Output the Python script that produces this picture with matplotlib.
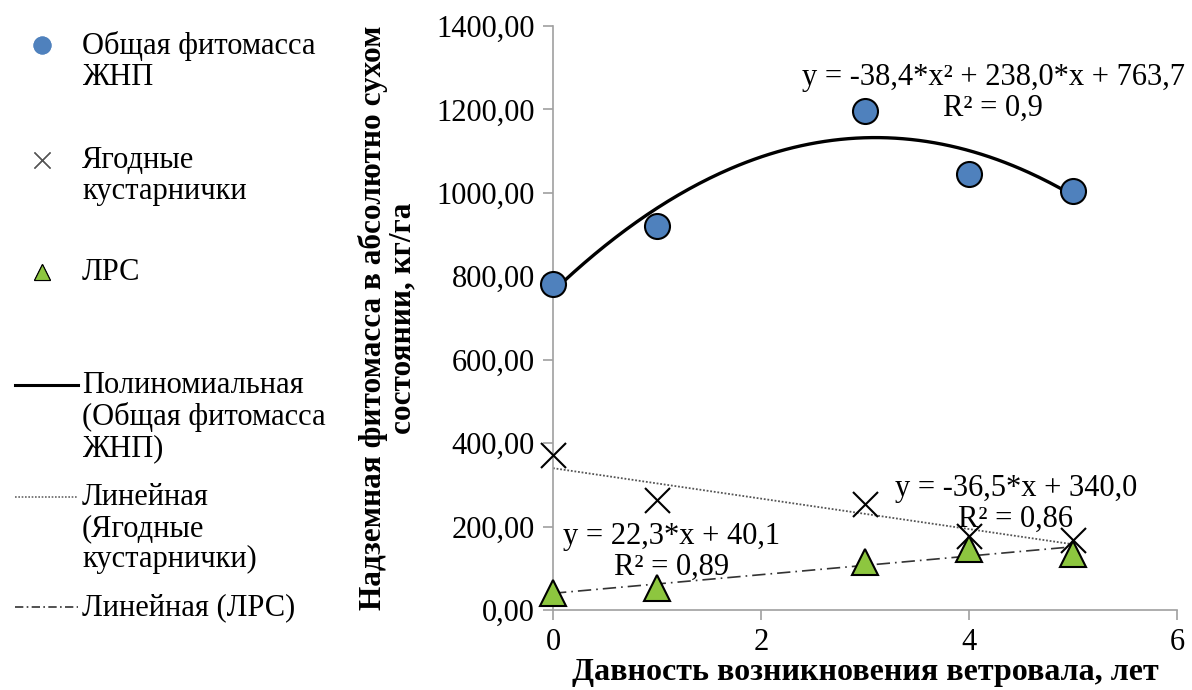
import numpy as np
import matplotlib
matplotlib.use("Agg")
import matplotlib.pyplot as plt
from matplotlib.lines import Line2D
from matplotlib.ticker import FuncFormatter

plt.rcParams['font.family'] = ['Liberation Serif', 'DejaVu Serif']

# years since windfall
years = [0, 1, 3, 4, 5]
total_mass = [781, 920, 1196, 1045, 1005]     # Общая фитомасса ЖНП
berry_mass = [372, 264, 254, 177, 168]        # Ягодные кустарнички
lrs_mass = [40, 52, 115, 146, 134]            # ЛРС

# trend coefficients as shown on the chart
poly_coef = [-38.4, 238.0, 763.7]
berry_coef = [-36.5, 340.0]
lrs_coef = [22.3, 40.1]

W, H = 1192, 690
fig = plt.figure(figsize=(W / 100, H / 100), dpi=100)
ax = fig.add_axes([553 / W, 1 - 610 / H, (1177 - 553) / W, (610 - 26) / H])


def fx(px):
    return px / W


def fy(py):
    return 1 - py / H


xt = np.linspace(0, 5, 200)
ax.plot(xt, np.polyval(poly_coef, xt), color='black', lw=2.4, zorder=2)
ax.plot(xt, np.polyval(berry_coef, xt), color='#555555', lw=1.3, ls=(0, (1, 1)), zorder=2)
ax.plot(xt, np.polyval(lrs_coef, xt), color='#333333', lw=1.2, ls=(0, (8, 3, 1, 3)), zorder=2)

ax.plot(years, total_mass, 'o', ms=18, mfc='#4f81bd', mec='black', mew=1.5, clip_on=False, zorder=3)
ax.plot(years, berry_mass, 'x', ms=18, color='black', mew=1.5, clip_on=False, zorder=3)
ax.plot(years, lrs_mass, '^', ms=19, mfc='#8dc63f', mec='black', mew=1.5, clip_on=False, zorder=4)

ax.set_xlim(0, 6)
ax.set_ylim(0, 1400)
ax.set_xticks([0, 2, 4, 6])
ax.set_yticks(np.arange(0, 1401, 200))
ax.yaxis.set_major_formatter(FuncFormatter(lambda v, p: f"{v:.2f}".replace('.', ',')))
for s in ['top', 'right']:
    ax.spines[s].set_visible(False)
for s in ['left', 'bottom']:
    ax.spines[s].set_color('#a0a0a0')
    ax.spines[s].set_linewidth(1.2)
ax.tick_params(labelsize=22, colors='#a0a0a0', labelcolor='black', length=7, width=1.2)
ax.tick_params(axis='x', pad=6)
ax.tick_params(axis='y', pad=6)

ax.set_xlabel('Давность возникновения ветровала, лет', fontsize=23, fontweight='bold', labelpad=1)
ax.set_ylabel('Надземная фитомасса в абсолютно сухом\nсостоянии, кг/га', fontsize=22.5,
              fontweight='bold', labelpad=14, linespacing=1.0)

# trend equations
eq_kw = dict(transform=fig.transFigure, fontsize=22, ha='center', va='center', linespacing=1.05)
fig.text(fx(993), fy(93), 'y = -38,4*x² + 238,0*x + 763,7\nR² = 0,9', **eq_kw)
fig.text(fx(1016), fy(504), 'y = -36,5*x + 340,0\nR² = 0,86', **eq_kw)
fig.text(fx(672), fy(552), 'y = 22,3*x + 40,1\nR² = 0,89', **eq_kw)

# legend drawn in pixel coordinates on the left
legend_items = [
    (dict(marker='o', ms=12, mfc='#4f81bd', mec='#4f81bd', ls='none'), 45, 'Общая фитомасса\nЖНП'),
    (dict(marker='x', ms=12, color='#555555', mew=1.0, ls='none'), 160, 'Ягодные\nкустарнички'),
    (dict(marker='^', ms=12, mfc='#8dc63f', mec='black', mew=0.8, ls='none'), 272, 'ЛРС'),
    (dict(color='black', lw=2.2), 385, 'Полиномиальная\n(Общая фитомасса\nЖНП)'),
    (dict(color='#666666', lw=1.2, ls=(0, (1, 1))), 497, 'Линейная\n(Ягодные\nкустарнички)'),
    (dict(color='#333333', lw=1.2, ls=(0, (5, 2, 1, 2))), 607, 'Линейная (ЛРС)'),
]
for style, py, label in legend_items:
    if style.get('ls') == 'none':
        xs = [fx(42), fx(42)]
    else:
        xs = [fx(15), fx(78)]
    fig.add_artist(Line2D(xs, [fy(py), fy(py)], transform=fig.transFigure, **style))
    fig.text(fx(82), fy(py - 14), label, fontsize=22, ha='left', va='top', linespacing=1.1)

fig.savefig('out.png', dpi=100)
